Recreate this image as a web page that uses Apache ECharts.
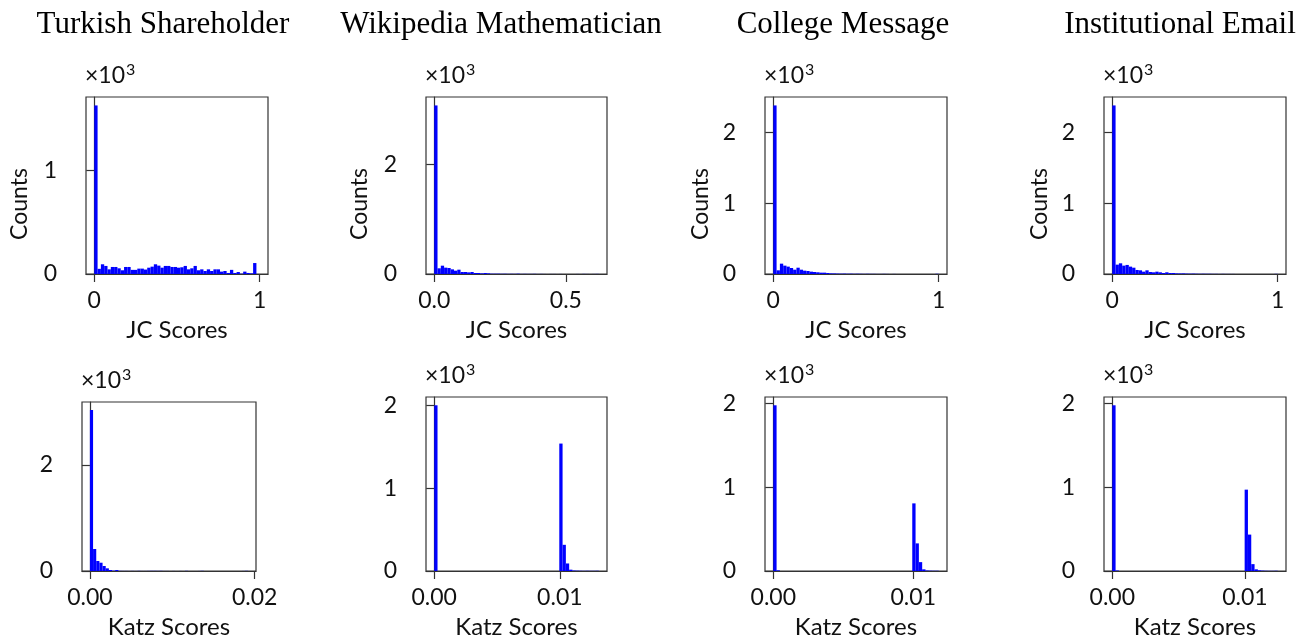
<!DOCTYPE html>
<html>
<head>
<meta charset="utf-8">
<script src="https://cdn.jsdelivr.net/npm/echarts@6/dist/echarts.min.js"></script>
<style>html,body{margin:0;padding:0;background:#fff}#chart{width:1300px;height:640px}</style>
</head>
<body>
<div id="chart"></div>
<script>
// ---------- DATA ----------
const titles = ['Turkish Shareholder', 'Wikipedia Mathematician', 'College Message', 'Institutional Email'];

// histogram ranges (data min / max of each panel)
const jcRanges = [[0, 1], [0, 0.625], [0, 1], [0, 1]];
const katzRanges = [[0, 0.0192], [0, 0.0131], [0, 0.01182], [0, 0.01247]];

// JC score histogram counts (50 bins each)
const jcTurkish = [1630, 50, 94, 78, 45, 68, 68, 55, 36, 68, 68, 40, 40, 52, 52, 43, 61, 71, 94, 81, 61, 78, 78, 68, 68, 61, 65, 78, 45, 55, 78, 36, 45, 29, 45, 29, 45, 45, 23, 29, 10, 40, 10, 19, 3, 23, 10, 6, 106, 0];
const jcWiki = [3080, 104, 152, 116, 110, 85, 61, 79, 37, 37, 30, 37, 18, 18, 12, 18, 12, 6, 6, 6, 4, 5, 3, 4, 3, 6, 2, 3, 2, 2, 3, 1, 2, 1, 0, 1, 1, 0, 1, 0, 0, 0, 0, 1, 0, 2, 1, 0, 1, 2];
const jcCollege = [2380, 52, 146, 118, 104, 85, 61, 89, 61, 47, 42, 33, 28, 24, 19, 19, 14, 9, 8, 6, 5, 6, 4, 5, 3, 4, 3, 2, 3, 2, 2, 1, 1, 2, 1, 0, 1, 0, 0, 0, 0, 0, 0, 0, 0, 0, 0, 0, 0, 3];
const jcInst = [2380, 132, 151, 118, 128, 104, 89, 57, 52, 33, 52, 28, 24, 33, 24, 14, 24, 14, 14, 9, 8, 9, 6, 5, 6, 4, 3, 4, 3, 3, 2, 2, 1, 2, 1, 1, 1, 0, 0, 0, 0, 0, 0, 0, 0, 0, 0, 0, 0, 2];

// Katz score histogram counts (50 bins each)
const katzTurkish = [3030, 414, 188, 156, 94, 50, 19, 6, 19, 3, 2, 2, 1, 2, 1, 3, 1, 1, 2, 3, 3, 2, 3, 1, 1, 0, 1, 0, 1, 0, 3, 0, 0, 0, 1, 3, 0, 0, 0, 0, 0, 0, 0, 0, 0, 0, 0, 0, 1, 3];
const katzWiki = [2000, 0, 0, 0, 0, 0, 0, 0, 0, 0, 0, 0, 0, 0, 0, 0, 0, 0, 0, 0, 0, 0, 0, 0, 0, 0, 0, 0, 0, 0, 0, 0, 0, 0, 0, 0, 0, 0, 1538, 316, 91, 16, 6, 4, 3, 2, 3, 2, 2, 3];
const katzCollege = [1980, 8, 0, 0, 0, 0, 0, 0, 0, 0, 0, 0, 0, 0, 0, 0, 0, 0, 0, 0, 0, 0, 0, 0, 0, 0, 0, 0, 0, 0, 0, 0, 0, 0, 0, 0, 0, 0, 0, 0, 0, 0, 808, 330, 106, 20, 6, 4, 3, 3];
const katzInst = [1980, 6, 0, 0, 0, 0, 0, 0, 0, 0, 0, 0, 0, 0, 0, 0, 0, 0, 0, 0, 0, 0, 0, 0, 0, 0, 0, 0, 0, 0, 0, 0, 0, 0, 0, 0, 0, 0, 0, 0, 972, 435, 82, 20, 8, 5, 3, 2, 2, 3];

// tick values
const jcXTicks = [[0, 1], [0, 0.5], [0, 1], [0, 1]];
const katzXTicks = [[0, 0.02], [0, 0.01], [0, 0.01], [0, 0.01]];
const jcYTicks = [[0, 1000], [0, 2000], [0, 1000, 2000], [0, 1000, 2000]];
const katzYTicks = [[0, 2000], [0, 1000, 2000], [0, 1000, 2000], [0, 1000, 2000]];
const jcXLabels = [['0', '1'], ['0.0', '0.5'], ['0', '1'], ['0', '1']];
const katzXLabels = [['0.00', '0.02'], ['0.00', '0.01'], ['0.00', '0.01'], ['0.00', '0.01']];

// ---------- LAYOUT ----------
const FONT = 'Lato';
const row1 = [
  {left: 86, top: 97, width: 182, height: 177},
  {left: 426, top: 97, width: 181, height: 177},
  {left: 765, top: 97, width: 182, height: 177},
  {left: 1104, top: 97, width: 182, height: 177}
];
const row2 = [
  {left: 82, top: 402, width: 174, height: 169},
  {left: 426, top: 397, width: 181, height: 177},
  {left: 765, top: 397, width: 182, height: 177},
  {left: 1104, top: 397, width: 182, height: 177}
];
const titleCenters = [163, 501, 843, 1180];
const countsLabelPos = [[20, 204], [360, 204], [701, 204], [1040, 204]];

const jcCounts = [jcTurkish, jcWiki, jcCollege, jcInst];
const katzCounts = [katzTurkish, katzWiki, katzCollege, katzInst];

function binsOf(range, counts) {
  const n = counts.length, w = (range[1] - range[0]) / n;
  return counts.map((c, i) => [range[0] + i * w, range[0] + (i + 1) * w, c]);
}

function renderItem(params, api) {
  const p0 = api.coord([api.value(0), 0]);
  const p1 = api.coord([api.value(1), api.value(2)]);
  return {
    type: 'rect',
    shape: {x: p0[0], y: p1[1], width: p1[0] - p0[0], height: p0[1] - p1[1]},
    style: {fill: '#0000ff'}
  };
}

const grids = [], xAxes = [], yAxes = [], series = [], graphics = [];
const axisLineStyle = {color: '#333', width: 1.2};

function addPanel(box, range, counts, xTicks, xLabels, yTicks, xName) {
  const idx = grids.length;
  grids.push({left: box.left, top: box.top, width: box.width, height: box.height,
    show: true, borderColor: '#333', borderWidth: 1.2, backgroundColor: 'transparent'});
  const span = range[1] - range[0];
  xAxes.push({
    type: 'value', gridIndex: idx,
    min: range[0] - 0.05 * span, max: range[1] + 0.05 * span,
    splitLine: {show: false},
    axisLine: {show: true, onZero: false, lineStyle: axisLineStyle},
    axisTick: {show: true, length: 8, lineStyle: axisLineStyle, customValues: xTicks},
    axisLabel: {show: true, customValues: xTicks, margin: 15, color: '#111', fontFamily: FONT, fontSize: 23,
      formatter: v => { const k = xTicks.findIndex(t => Math.abs(t - v) < 1e-9); return k >= 0 ? xLabels[k] : ''; }},
    name: xName, nameLocation: 'middle', nameGap: 44,
    nameTextStyle: {color: '#111', fontFamily: FONT, fontSize: 24}
  });
  const ymax = Math.max.apply(null, counts) * 1.05;
  yAxes.push({
    type: 'value', gridIndex: idx, min: 0, max: ymax,
    splitLine: {show: false},
    axisLine: {show: true, lineStyle: axisLineStyle},
    axisTick: {show: true, length: 8, lineStyle: axisLineStyle, customValues: yTicks},
    axisLabel: {show: true, customValues: yTicks, margin: 29, color: '#111', fontFamily: FONT, fontSize: 23,
      padding: [4, 0, 0, 0],
      formatter: v => String(Math.round(v / 1000))}
  });
  series.push({
    type: 'custom', xAxisIndex: idx, yAxisIndex: idx,
    renderItem: renderItem, encode: {x: [0, 1], y: 2},
    data: binsOf(range, counts), silent: true, animation: false
  });
  graphics.push({type: 'text', left: box.left - 1, top: box.top - 35,
    style: {text: '{a|×10}{b|3}', rich: {
      a: {fontFamily: FONT, fontSize: 23, fill: '#111'},
      b: {fontFamily: FONT, fontSize: 16, fill: '#111', padding: [0, 0, 11, 1]}
    }}});
}

for (let i = 0; i < 4; i++) {
  addPanel(row1[i], jcRanges[i], jcCounts[i], jcXTicks[i], jcXLabels[i], jcYTicks[i], 'JC Scores');
}
for (let i = 0; i < 4; i++) {
  addPanel(row2[i], katzRanges[i], katzCounts[i], katzXTicks[i], katzXLabels[i], katzYTicks[i], 'Katz Scores');
}
for (let i = 0; i < 4; i++) {
  graphics.push({type: 'text', x: titleCenters[i], y: 25,
    style: {text: titles[i], font: '31px "Liberation Serif"', fill: '#000', textAlign: 'center', textVerticalAlign: 'middle'}});
  graphics.push({type: 'text', x: countsLabelPos[i][0], y: countsLabelPos[i][1], rotation: Math.PI / 2,
    style: {text: 'Counts', font: '23px ' + FONT, fill: '#111', textAlign: 'center', textVerticalAlign: 'middle'}});
}

const chart = echarts.init(document.getElementById('chart'), null, {renderer: 'canvas'});
chart.setOption({
  animation: false,
  grid: grids, xAxis: xAxes, yAxis: yAxes, series: series, graphic: graphics
});
</script>
</body>
</html>
